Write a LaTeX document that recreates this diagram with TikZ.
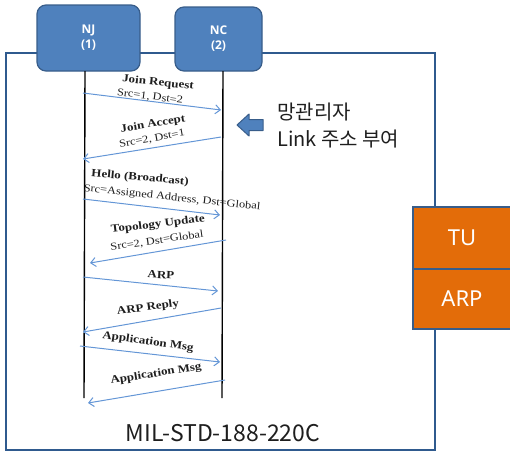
\documentclass[tikz,border=0pt]{standalone}
\usepackage{fontspec}
\setmainfont{Liberation Serif}
\newfontfamily\msgfont[FakeStretch=1.18]{Liberation Serif}
\newfontfamily\krfont{Noto Sans CJK KR}
\newfontfamily\uifont{Noto Sans}
\newfontfamily\headfont{Open Sans}
\usetikzlibrary{arrows.meta}

\definecolor{boxblue}{HTML}{4F81BD}
\definecolor{edgeblue}{HTML}{385D8A}
\definecolor{msgblue}{HTML}{6496D6}
\definecolor{tuorange}{HTML}{E36C09}
\definecolor{frameblue}{HTML}{2F5A8E}
\definecolor{inktext}{HTML}{1E1E1E}

\tikzset{
  entity/.style={draw=edgeblue, line width=1.2pt, fill=boxblue, rounded corners=9pt,
    text=white, align=center, font=\headfont\bfseries\fontsize{12}{15}\selectfont, inner sep=0pt},
  stackbox/.style={draw=edgeblue, line width=1.2pt, fill=tuorange, text=white,
    font=\uifont\fontsize{22}{26}\selectfont, inner sep=0pt, minimum width=98pt},
  frameline/.style={draw=frameblue, line width=2.2pt},
  lifeline/.style={draw=black, line width=1.4pt},
  msg/.style={draw=msgblue, line width=1pt, -{Straight Barb[length=5pt, width=9pt, line width=1pt]}},
  msgtitle/.style={font=\msgfont\bfseries\fontsize{11}{12}\selectfont, text=inktext, inner sep=0pt},
  msgsub/.style={font=\msgfont\fontsize{10.5}{12}\selectfont, text=inktext, inner sep=0pt},
  kr/.style={font=\krfont\fontsize{20}{24}\selectfont, text=inktext, anchor=base west, inner sep=0pt},
}

\begin{document}
\begin{tikzpicture}[x=1pt, y=-1pt]
\useasboundingbox (0,0) rectangle (510,453);

% outer frame of the protocol stack
\draw[frameline] (6,53) rectangle (435,450);

% participants
\node[entity, minimum width=103pt, minimum height=66pt] (nj) at (88.5,38) {NJ\\(1)};
\node[entity, minimum width=87pt, minimum height=64pt] (nc) at (218.5,39) {NC\\(2)};

% lifelines
\coordinate (njtop) at (85,71);
\coordinate (njbot) at (84,398);
\coordinate (nctop) at (223,71);
\coordinate (ncbot) at (222,398);
\draw[lifeline] (njtop) -- (njbot);
\draw[lifeline] (nctop) -- (ncbot);

% message end points
\coordinate (m1a) at (83,93);   \coordinate (m1b) at (221,110);
\coordinate (m2a) at (221,137); \coordinate (m2b) at (83,159);
\coordinate (m3a) at (83,199);  \coordinate (m3b) at (220,215);
\coordinate (m4a) at (226,240); \coordinate (m4b) at (90,263);
\coordinate (m5a) at (83,277);  \coordinate (m5b) at (218,291);
\coordinate (m6a) at (221,308); \coordinate (m6b) at (83,332);
\coordinate (m7a) at (80,346);  \coordinate (m7b) at (220,362);
\coordinate (m8a) at (225,380); \coordinate (m8b) at (88,403);

\draw[msg] (m1a) -- (m1b);
\draw[msg] (m2a) -- (m2b);
\draw[msg] (m3a) -- (m3b);
\draw[msg] (m4a) -- (m4b);
\draw[msg] (m5a) -- (m5b);
\draw[msg] (m6a) -- (m6b);
\draw[msg] (m7a) -- (m7b);
\draw[msg] (m8a) -- (m8b);

% message labels
\node[msgtitle, rotate=-6] (t1) at (158,83) {Join Request};
\node[msgsub, rotate=-7] (s1) at (150,97) {Src=1, Dst=2};
\node[msgtitle, rotate=9] (t2) at (153,124.5) {Join Accept};
\node[msgsub, rotate=10] (s2) at (152,139) {Src=2, Dst=1};
\node[msgtitle, rotate=-5] (t3) at (140,178) {Hello (Broadcast)};
\node[msgsub, rotate=-6] (s3) at (172,198) {Src=Assigned Address, Dst=Global};
\node[msgtitle, rotate=7] (t4) at (158,224.5) {Topology Update};
\node[msgsub, rotate=8] (s4) at (157,241) {Src=2, Dst=Global};
\node[msgtitle, rotate=-3] (t5) at (161,275) {ARP};
\node[msgtitle, rotate=8] (t6) at (148,308) {ARP Reply};
\node[msgtitle, rotate=-8] (t7) at (148,342) {Application Msg};
\node[msgtitle, rotate=9] (t8) at (156,374) {Application Msg};

% note: network manager assigns the link address
\draw[draw=edgeblue, line width=1pt, fill=boxblue, line join=round]
  (237,125) -- (249,114) -- (249,119.5) -- (263,119.5) -- (263,130.5)
  -- (249,130.5) -- (249,136) -- cycle;
\node[kr] (note1) at (277,119) {망관리자};
\node[kr] (note2) at (277,146) {Link 주소 부여};

% side stack
\node[stackbox, minimum height=62pt] (tu) at (462,238) {TU};
\node[stackbox, minimum height=60pt] (arp) at (462,299) {ARP};

% standard name
\node[font=\krfont\fontsize{23}{26}\selectfont, text=inktext, anchor=base, inner sep=0pt] (std) at (223,441) {MIL-STD-188-220C};
\end{tikzpicture}
\end{document}
